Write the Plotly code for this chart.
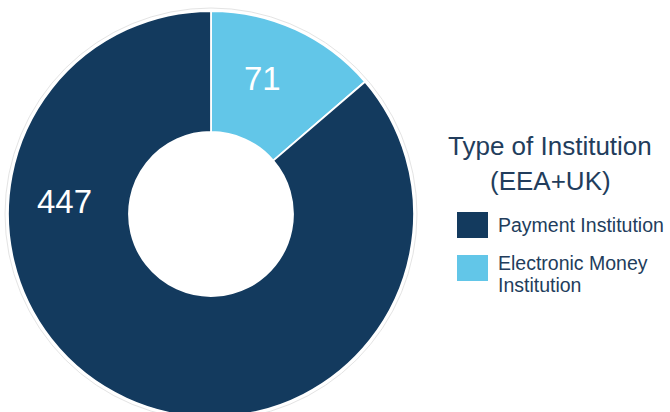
import plotly.graph_objects as go

# slice order (clockwise from 12 o'clock)
categories = ["Electronic Money Institution", "Payment Institution"]
values = [71, 447]
colors = ["#62c6e8", "#133a5e"]
# legend order / text
legend_title_lines = ["Type of Institution", "(EEA+UK)"]
legend_order = [1, 0]
legend_label_lines = {0: ["Electronic Money", "Institution"], 1: ["Payment Institution"]}

FW, FH = 670, 420
def px(x):
    return x / FW
def py(y):
    return 1 - y / FH

R = 203
CX, CY = 211, 214

fig = go.Figure(go.Pie(
    labels=categories,
    values=values,
    hole=82 / R,
    sort=False,
    direction="clockwise",
    marker=dict(colors=colors, line=dict(color="white", width=1.8)),
    textinfo="none",
    hoverinfo="label+value",
    showlegend=False,
    domain=dict(x=[px(CX - R), px(CX + R)], y=[py(CY + R), py(CY - R)]),
))

ann = []
# value labels
label_pos = {0: (262, 78), 1: (64, 201)}
for i, v in enumerate(values):
    x, y = label_pos[i]
    ann.append(dict(x=px(x), y=py(y), xref="paper", yref="paper", text=str(v),
                    showarrow=False, xanchor="center", yanchor="middle",
                    font=dict(size=33, color="white", family="Liberation Sans, Arial")))
# legend title
for i, line in enumerate(legend_title_lines):
    ann.append(dict(x=px(550), y=py(146 + 35 * i), xref="paper", yref="paper", text=line,
                    showarrow=False, xanchor="center", yanchor="middle",
                    font=dict(size=26, color="#223d5c", family="Liberation Sans, Arial")))
# faint outer ring outline
shapes = [dict(type="circle", xref="paper", yref="paper", layer="below",
               x0=px(CX - R - 3), x1=px(CX + R + 3), y0=py(CY + R + 3), y1=py(CY - R - 3),
               line=dict(color="#e4e4e4", width=1), fillcolor="rgba(0,0,0,0)")]
# legend entries
sw_tops = [212, 255]
for k, idx in enumerate(legend_order):
    top = sw_tops[k]
    lines = legend_label_lines[idx]
    shapes.append(dict(type="rect", xref="paper", yref="paper",
                       x0=px(457), x1=px(488), y0=py(top), y1=py(top + 26),
                       fillcolor=colors[idx], line=dict(width=0)))
    for j, line in enumerate(lines):
        ann.append(dict(x=px(496), y=py(top + 13 + 22 * j - (5 if len(lines) > 1 else 0)),
                        xref="paper", yref="paper", text=line,
                        showarrow=False, xanchor="left", yanchor="middle",
                        font=dict(size=19.5, color="#223d5c", family="Liberation Sans, Arial")))

fig.update_layout(
    width=FW, height=FH,
    margin=dict(l=0, r=0, t=0, b=0),
    paper_bgcolor="white",
    plot_bgcolor="white",
    annotations=ann,
    shapes=shapes,
    showlegend=False,
)

fig.write_html(
    "out.html",
    config={"displayModeBar": False},
    post_script=(
        "document.body.style.margin='0';"
        "document.body.style.overflow='hidden';"
        "document.documentElement.style.overflow='hidden';"
    ),
)
